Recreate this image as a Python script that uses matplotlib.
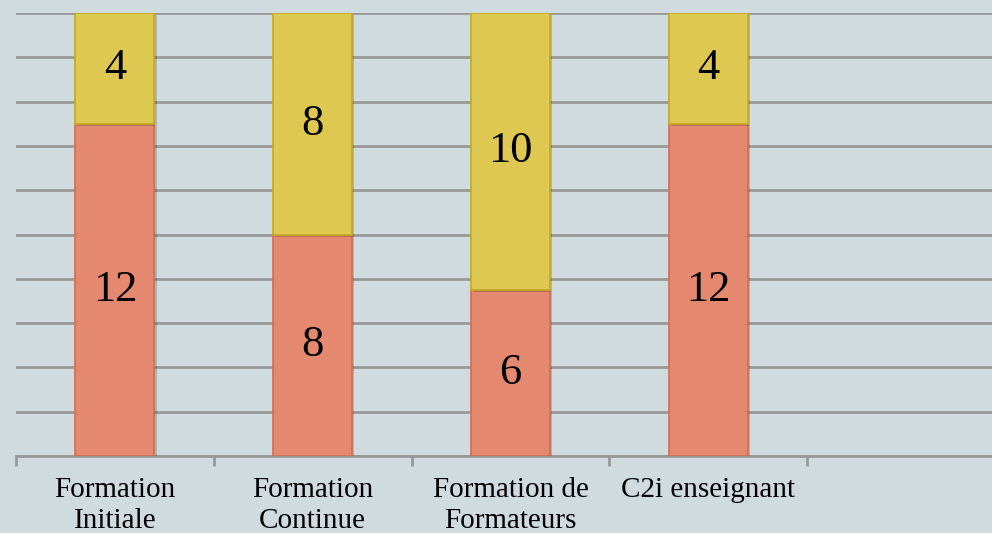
import matplotlib
matplotlib.use("Agg")
import matplotlib.pyplot as plt
import matplotlib.patheffects as pe
import numpy as np

categories = ["Formation\nInitiale", "Formation\nContinue", "Formation de\nFormateurs", "C2i enseignant"]
series_red = [12, 8, 6, 12]
series_yellow = [4, 8, 10, 4]

BG = "#D0DBE0"
RED = "#E58870"
RED_EDGE = "#CF6E55"
YEL = "#DEC852"
YEL_EDGE = "#C4AA22"
GRID = "#999999"

fig = plt.figure(figsize=(9.92, 5.33), dpi=100, facecolor=BG)
ax = fig.add_axes([16/992, 77/533, 989/992, 443/533], facecolor=BG)

x = np.arange(len(categories))
shadow = [pe.SimplePatchShadow(offset=(1.5, -1.5), shadow_rgbFace="#000000", alpha=0.18), pe.Normal()]
b1 = ax.bar(x, series_red, width=0.40, color=RED, edgecolor=RED_EDGE, linewidth=1.2, zorder=3)
b2 = ax.bar(x, series_yellow, width=0.40, bottom=series_red, color=YEL, edgecolor=YEL_EDGE, linewidth=1.2, zorder=3)
for p in list(b1) + list(b2):
    p.set_path_effects(shadow)

font = "Liberation Serif"
for i in range(len(categories)):
    r = series_red[i]
    y = series_yellow[i]
    ax.text(x[i], r / 2, str(r), ha="center", va="center", fontsize=32, family=font, color="black", zorder=5)
    ax.text(x[i], r + y / 2, str(y), ha="center", va="center", fontsize=32, family=font, color="black", zorder=5)

ax.set_xlim(-0.5, 4.5)
ax.set_ylim(0, 16)
ax.set_yticks(np.arange(0, 16.01, 1.6))
ax.yaxis.grid(True, color=GRID, linewidth=2, zorder=0)
ax.set_axisbelow(True)
ax.tick_params(axis="y", left=False, labelleft=False)

ax.set_xticks(x)
ax.set_xticklabels(categories, fontsize=21, family=font, linespacing=1.27)
ax.set_xticks(np.arange(-0.5, 4.6, 1.0), minor=True)
ax.tick_params(axis="x", which="major", length=0, pad=15)
ax.tick_params(axis="x", which="minor", length=7, width=2, color=GRID)

for s in ["left", "right", "top"]:
    ax.spines[s].set_visible(False)
ax.spines["bottom"].set_color(GRID)
ax.spines["bottom"].set_linewidth(2)

fig.savefig("out.png", dpi=100, facecolor=BG)
